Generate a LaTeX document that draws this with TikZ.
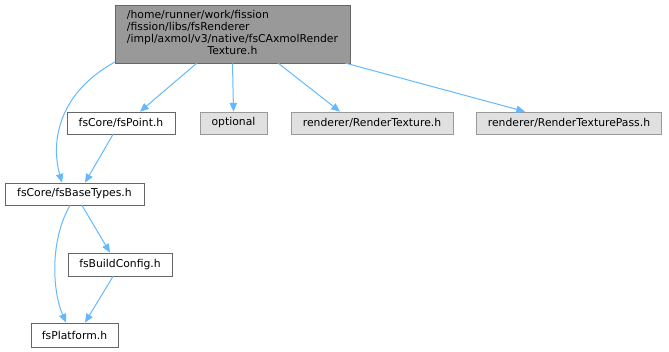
\documentclass[tikz,border=0pt]{standalone}
\usepackage{fontspec}
\setmainfont{DejaVu Sans}
\usetikzlibrary{arrows.meta}
\begin{document}
\begin{tikzpicture}[x=0.75pt,y=-0.75pt,
  box/.style={draw=black!60,fill=white,line width=0.6pt,inner sep=0pt,font=\fontsize{8.1}{9.2}\selectfont},
  gbox/.style={box,draw=black!40,fill=black!12},
  mainbox/.style={box,draw=black!60,fill=black!40},
  edge/.style={color={rgb,255:red,99;green,184;blue,255},line width=0.75pt,-{Triangle[length=6.5pt,width=5.5pt]}}]
\useasboundingbox (0,0) rectangle (669,352);
\node[mainbox,minimum width=0.75pt*235,minimum height=0.75pt*58] (top) at (232.5,34)
  {\begin{tabular}{@{}l@{}}/home/runner/work/fission\\/fission/libs/fsRenderer\\/impl/axmol/v3/native/fsCAxmolRender\\\multicolumn{1}{@{}c@{}}{Texture.h}\end{tabular}};
\node[box,minimum width=0.75pt*108,minimum height=0.75pt*22] (pt) at (121,123) {fsCore/fsPoint.h};
\node[gbox,minimum width=0.75pt*67,minimum height=0.75pt*22] (opt) at (233.5,123) {optional};
\node[gbox,minimum width=0.75pt*162,minimum height=0.75pt*22] (rt) at (372,123) {renderer/RenderTexture.h};
\node[gbox,minimum width=0.75pt*185,minimum height=0.75pt*22] (rtp) at (569,123) {renderer/RenderTexturePass.h};
\node[box,minimum width=0.75pt*139,minimum height=0.75pt*22] (bt) at (74.5,194) {fsCore/fsBaseTypes.h};
\node[box,minimum width=0.75pt*104,minimum height=0.75pt*23] (bc) at (120,264.5) {fsBuildConfig.h};
\node[box,minimum width=0.75pt*87,minimum height=0.75pt*24] (pl) at (74.5,335) {fsPlatform.h};
\draw[edge] (115,62) .. controls (60,92) and (50,140) .. (bt.north west -| 62,183);
\draw[edge] (197,63) -- (pt.north east -| 140,112);
\draw[edge] (top.south) -- (opt.north);
\draw[edge] (278,63) -- (rt.north west -| 340,112);
\draw[edge] (345,63) -- (rtp.north west -| 525,112);
\draw[edge] (pt.south west -| 113,134) -- (bt.north west -| 85,183);
\draw[edge] (bt.south west -| 70,205) .. controls (50,240) and (52,290) .. (pl.north west -| 66,323);
\draw[edge] (bt.south west -| 82,205) -- (bc.north west -| 110,253);
\draw[edge] (bc.south west -| 113,276) -- (pl.north west -| 85,323);
\end{tikzpicture}
\end{document}
